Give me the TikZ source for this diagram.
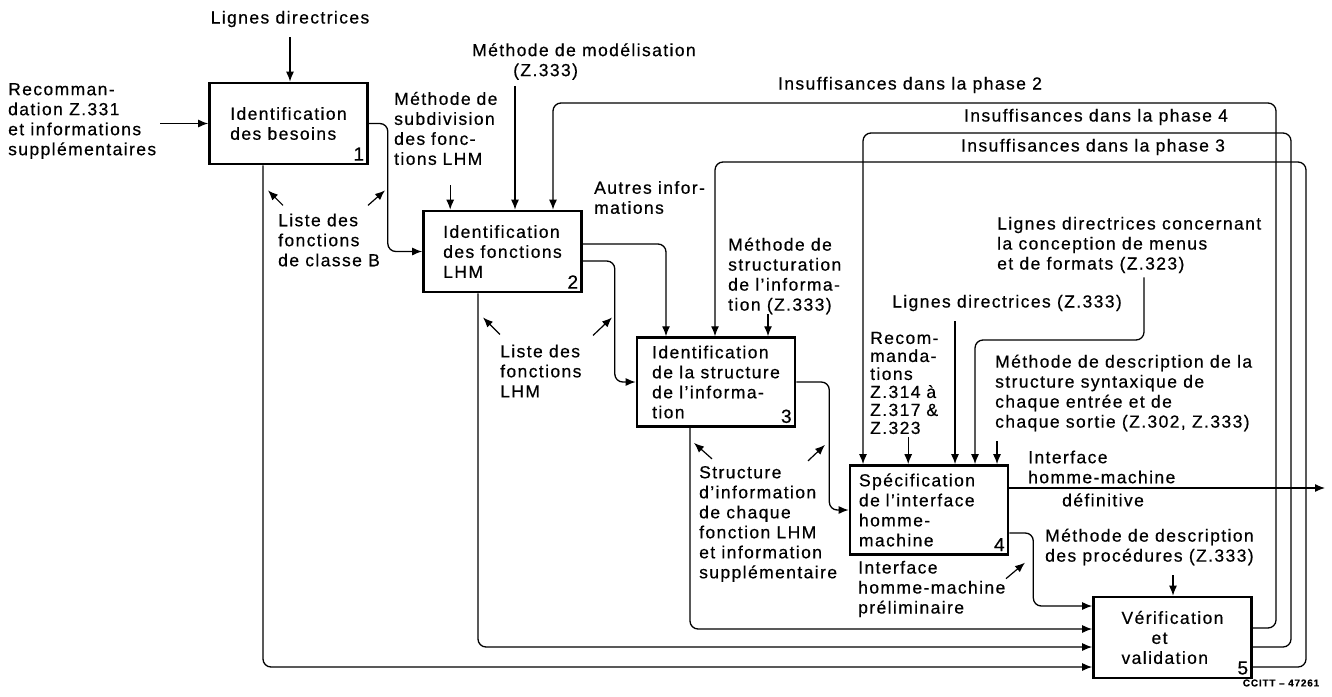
\documentclass[tikz,border=0pt]{standalone}
\usepackage{fontspec}
\setmainfont{Liberation Sans}[LetterSpace=8, FakeBold=0.5]
\usetikzlibrary{positioning,arrows,arrows.meta}
\usetikzlibrary{calc}
\newcommand{\idffont}{\fontsize{17.5}{20}\selectfont}
\tikzset{
  fct_box/.style = {rectangle, draw=black, line width=2.6pt,
    minimum width=158pt, minimum height=81pt, align=left,
    inner sep=8pt, font=\idffont},
  fct_num/.style = {anchor=south east, inner sep=4.5pt, font=\fontsize{19}{20}\selectfont},
  lbl/.style = {align=left, inner sep=0pt, font=\idffont},
  flow/.style = {->, line width=1.3pt, rounded corners=8pt},
  ptr/.style = {->, line width=1.2pt}% fleche de renvoi
}

\begin{document}
\begin{tikzpicture}[x=1pt, y=-1pt, >={Latex[length=10pt,width=8pt]}]
\useasboundingbox (0,0) rectangle (1332,696);
%
% boites
\node (B1) [fct_box, label={[fct_num]south east:1}] at (288.5,123.5)
  {Identification\\des besoins};
\node (B2) [fct_box, label={[fct_num]south east:2}] at (502.5,251.5)
  {Identification\\des fonctions\\LHM};
\node (B3) [fct_box, label={[fct_num]south east:3}] at (716,382)
  {Identification\\de la structure\\de l’informa-\\tion};
\node (B4) [fct_box, text width=140pt, label={[fct_num]south east:4}] at (929,510)
  {Spécification\\de l’interface\\homme-\\machine};
\node (B5) [fct_box, label={[fct_num]south east:5}] at (1172.5,637.5)
  {Vérification\\\hspace*{30pt}et\\validation};
%
% textes
\node (LD1) [lbl] at (290,19) {Lignes directrices};
\node (REC) [lbl, anchor=west] at (8,121)
  {Recomman-\\dation Z.331\\et informations\\supplémentaires};
\node (LST1) [lbl, anchor=west] at (278,240) {Liste des\\fonctions\\de classe B};
\node (MSUB) [lbl, anchor=west, text width=112pt] at (394,128.5)
  {Méthode de\\subdivision\\des fonc-\\tions LHM};
\node (MMOD) [lbl, anchor=west] at (472,61.5)
  {Méthode de modélisation\\\hspace*{41pt}(Z.333)};
\node (INS2) [lbl] at (910,85) {Insuffisances dans la phase 2};
\node (INS4) [lbl] at (1096,117) {Insuffisances dans la phase 4};
\node (INS3) [lbl] at (1093,147) {Insuffisances dans la phase 3};
\node (AUTR) [lbl, anchor=west] at (594,197.5) {Autres infor-\\mations};
\node (MSTR) [lbl, anchor=west] at (728,276)
  {Méthode de\\structuration\\de l’informa-\\tion (Z.333)};
\node (LST2) [lbl, anchor=west] at (500,371) {Liste des\\fonctions\\LHM};
\node (SINF) [lbl, anchor=west] at (699,524)
  {Structure\\d’information\\de chaque\\fonction LHM\\et information\\supplémentaire};
\node (LDC) [lbl, anchor=west] at (997,245)
  {Lignes directrices concernant\\la conception de menus\\et de formats (Z.323)};
\node (LD2) [lbl] at (1007,303) {Lignes directrices (Z.333)};
\node (RECZ) [lbl, anchor=west, text width=76pt, font=\fontsize{17.5}{18}\selectfont] at (870,383)
  {Recom-\\manda-\\tions\\Z.314 à\\Z.317 \&\\Z.323};
\node (MDSC) [lbl, anchor=west] at (995,393)
  {Méthode de description de la\\structure syntaxique de\\chaque entrée et de\\chaque sortie (Z.302, Z.333)};
\node (IHM1) [lbl, anchor=west] at (1028,467) {Interface\\homme-machine};
\node (IHM2) [lbl, anchor=west] at (1062,500) {définitive};
\node (IHMP) [lbl, anchor=west] at (858,589) {Interface\\homme-machine\\préliminaire};
\node (MPROC) [lbl, anchor=west] at (1045,547) {Méthode de description\\des procédures (Z.333)};
\node (CCITT) [inner sep=0pt, font=\fontsize{10}{11}\selectfont\bfseries] at (1281,683) {CCITT – 47261};
%
% coins des boucles de retour
\coordinate (K2) at (1276,103);
\coordinate (K4) at (1291,133);
\coordinate (K3) at (1306,162);
\coordinate (K5) at (975,340);
\coordinate (OUT) at (1325,488);
%
% entrees
\draw[flow, shorten <=10pt] (LD1.south) -- (LD1.south |- B1.north);
\draw[flow, shorten <=4pt] (REC.east |- B1.west) -- (B1.west);
\draw[flow, shorten <=20pt] (MSUB.south) -- (MSUB.south |- B2.north);
\draw[flow, shorten <=6pt] ([xshift=43pt]MMOD.south west) -- ([xshift=43pt]MMOD.south west |- B2.north);
\draw[flow] ([xshift=40pt]MSTR.south west) -- ([xshift=40pt]MSTR.south west |- B3.north);
\draw[flow, shorten <=3pt] (RECZ.south) -- (RECZ.south |- B4.north);
\draw[flow, shorten <=10pt] ([xshift=-52pt]LD2.south) -- ([xshift=-52pt]LD2.south |- B4.north);
\draw[flow, shorten <=4pt] ([xshift=147pt]LDC.south west) |- (K5) -- (K5 |- B4.north);
\draw[flow, shorten <=10pt] ([xshift=2pt]MDSC.south west) -- ([xshift=2pt]MDSC.south west |- B4.north);
\draw[flow, shorten <=10pt] ([xshift=128pt]MPROC.south west) -- ([xshift=128pt]MPROC.south west |- B5.north);
%
% sorties
\draw[flow] (B1.east) -- ++(19,0) |- (B2.west);
\draw[flow] ([xshift=-25.5pt]B1.south) |- ([yshift=-29.5pt]B5.west);
\draw[flow] ([yshift=7.5pt]B2.east) -| ([xshift=-50pt]B3.north);
\draw[flow] ([yshift=-9.5pt]B2.east) -- ++(32,0) |- (B3.west);
\draw[flow] ([xshift=-24.5pt]B2.south) |- ([yshift=-9.5pt]B5.west);
\draw[flow] (B3.east) -- ++(33,0) |- (B4.west);
\draw[flow] ([xshift=-26pt]B3.south) |- ([yshift=8.5pt]B5.west);
\draw[flow] ([yshift=22pt]B4.east) -- (OUT);
\draw[flow] ([yshift=-23pt]B4.east) -- ++(24,0) |- ([yshift=31.5pt]B5.west);
%
% retours
\draw[flow] ([yshift=9.5pt]B5.east) -| (K2) -| ([xshift=50.5pt]B2.north);
\draw[flow] ([yshift=-9.5pt]B5.east) -| (K4) -| ([xshift=-66pt]B4.north);
\draw[flow] ([yshift=-29.5pt]B5.east) -| (K3) -| ([xshift=-1pt]B3.north);
%
% renvois
\draw[ptr] ([shift={(5,-8)}]LST1.north west) -- ++(-15,-15);
\draw[ptr] ([shift={(90,-8)}]LST1.north west) -- ++(17,-15);
\draw[ptr] ([shift={(0,-10)}]LST2.north west) -- ++(-17,-17);
\draw[ptr] ([shift={(93,-9)}]LST2.north west) -- ++(19,-18);
\draw[ptr] ([shift={(13,-7)}]SINF.north west) -- ++(-18,-16);
\draw[ptr] ([shift={(109,-5)}]SINF.north west) -- ++(17,-16);
\draw[ptr] ([shift={(148,18)}]IHMP.north west) -- ++(19,-16);
\end{tikzpicture}
\end{document}
